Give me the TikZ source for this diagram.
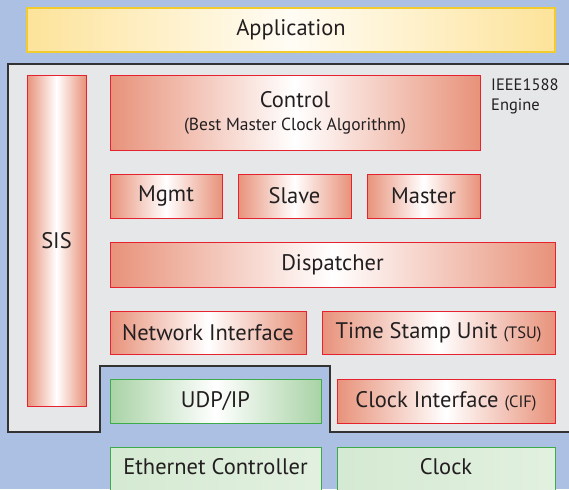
\documentclass[tikz,border=0pt]{standalone}
\usepackage{fontspec}
\setmainfont{PT Sans}
\definecolor{bgblue}{HTML}{ABC0E3}
\definecolor{enggray}{HTML}{E6E7E9}
\definecolor{redfill}{HTML}{E8927A}
\definecolor{redline}{HTML}{E5222E}
\definecolor{grnfill}{HTML}{A9D3A6}
\definecolor{grnline}{HTML}{3DAB4A}
\definecolor{ltgrn}{HTML}{D5EAD2}
\definecolor{yelfill}{HTML}{FDE39A}
\definecolor{yelline}{HTML}{F2CB2E}
\definecolor{txt}{HTML}{231F20}
\tikzset{
  blk/.style={draw, line width=1pt, inner sep=0pt, outer sep=0pt, text=txt,
    font=\fontsize{22.5}{24}\selectfont, align=center},
  redbox/.style={blk, draw=redline, left color=redfill, right color=redfill, middle color=white},
  grnbox/.style={blk, draw=grnline, left color=grnfill, right color=grnfill, middle color=white},
  ltgrnbox/.style={blk, draw=grnline, left color=ltgrn, right color=ltgrn!70!white, middle color=ltgrn!85!white},
  yelbox/.style={blk, draw=yelline, line width=1.3pt, left color=yelfill, right color=yelfill, middle color=yelfill!10!white},
  lbl/.style={text=txt, font=\fontsize{22.5}{24}\selectfont, inner sep=0pt},
  sm/.style={font=\fontsize{17.5}{20}\selectfont},
  engl/.style={font=\fontsize{16.5}{19}\selectfont, text=txt, anchor=base west, inner sep=0pt},
}
\newcommand{\smc}[1]{{\fontsize{16.5}{18}\selectfont #1}}
\begin{document}
\begin{tikzpicture}[x=1pt,y=-1pt]
\useasboundingbox (0,0) rectangle (569,489);
\fill[bgblue] (0,0) rectangle (569,489);
% engine region
\draw[fill=enggray, draw=black!80, line width=1.2pt]
  (8,64) -- (580,64) -- (580,432) -- (330,432) -- (330,366) -- (100,366) -- (100,432) -- (8,432) -- cycle;
% application
\node[yelbox, minimum width=528, minimum height=44] (app) at (291,30) {Application};
% SIS
\node[redbox, minimum width=59, minimum height=330] (sis) at (56.5,241) {SIS};
% control
\node[redbox, minimum width=370, minimum height=74] (ctrl) at (295,113) {};
\node[lbl, anchor=base] (ctrlt) at (295,108) {Control};
\node[lbl, sm, anchor=base] (ctrls) at (295,131) {(Best Master Clock Algorithm)};
\node[engl] (eng1) at (491,91) {IEEE1588};
\node[engl] (eng2) at (491,111) {Engine};
% mgmt slave master
\node[redbox, minimum width=112, minimum height=44] (mgmt) at (166,196) {Mgmt};
\node[redbox, minimum width=113, minimum height=44] (slave) at (294.5,196) {Slave};
\node[redbox, minimum width=113, minimum height=44] (master) at (423.5,196) {Master};
% dispatcher
\node[redbox, minimum width=445, minimum height=45] (disp) at (332.5,264.5) {Dispatcher};
% network interface, tsu
\node[redbox, minimum width=196, minimum height=43] (ni) at (208,332.5) {Network Interface};
\node[redbox, minimum width=233, minimum height=43] (tsu) at (438.5,332.5) {Time Stamp Unit \smc{(TSU)}};
% udp, cif
\node[grnbox, minimum width=211, minimum height=44] (udp) at (215.5,401) {UDP/IP};
\node[redbox, minimum width=218, minimum height=44] (cif) at (446,401) {Clock Interface \smc{(CIF)}};
% ethernet, clock
\node[ltgrnbox, minimum width=211, minimum height=50] (eth) at (215.5,472) {};
\node[ltgrnbox, minimum width=218, minimum height=50] (clk) at (446,472) {};
\node[lbl] (ethl) at (215.5,467) {Ethernet Controller};
\node[lbl] (clkl) at (446,467) {Clock};
\end{tikzpicture}
\end{document}
